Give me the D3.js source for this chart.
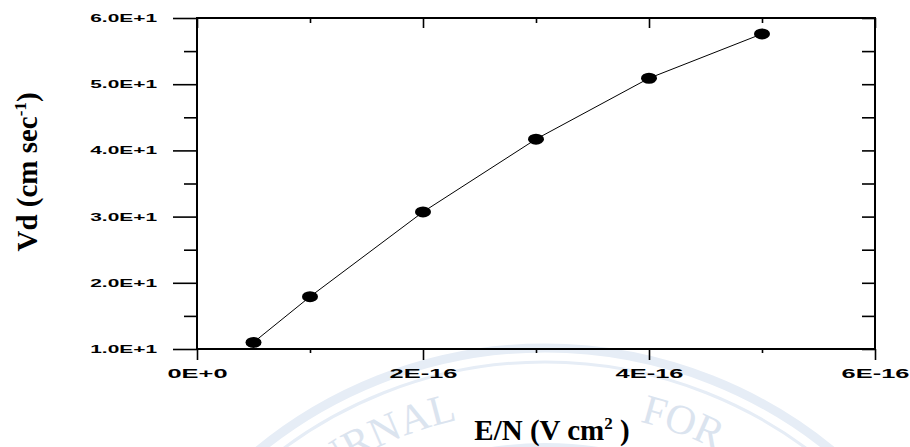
<!DOCTYPE html>
<html>
<head>
<meta charset="utf-8">
<script src="https://cdn.jsdelivr.net/npm/d3@7"></script>
<style>
  html, body { margin: 0; padding: 0; background: #fff; }
  svg { display: block; }
</style>
</head>
<body>
<div id="chart"></div>
<script>
// E/N values (V cm^2) and drift velocity Vd (cm/sec)
const enValues = [0.5e-16, 1e-16, 2e-16, 3e-16, 4e-16, 5e-16];
const vdValues = [11.0, 17.9, 30.7, 41.7, 50.9, 57.6];

const xMajorTicks = [0, 2e-16, 4e-16, 6e-16];
const xMinorTicks = [1e-16, 3e-16, 5e-16];
const yMajorTicks = [10, 20, 30, 40, 50, 60];
const yMinorTicks = [15, 25, 35, 45, 55];

const xTitle = 'E/N (V cm';
const yTitle = 'Vd (cm sec';

const width = 910, height = 447;
const plotLeft = 197, plotRight = 875, plotTop = 18, plotBottom = 349;

const svg = d3.select('#chart').append('svg')
    .attr('width', width)
    .attr('height', height);

// faint journal watermark behind the chart
const wm = svg.append('g').attr('fill', 'none');
const cx = 545, cy = 800;
[[452, 9], [438, 3], [355, 4]].forEach(([r, w]) => {
  wm.append('circle')
      .attr('cx', cx).attr('cy', cy).attr('r', r)
      .attr('stroke', '#e6edf6')
      .attr('stroke-width', w);
});
const tr = 390;
wm.append('path')
    .attr('id', 'wmArc')
    .attr('d', `M${cx - tr},${cy} A${tr},${tr} 0 0 1 ${cx + tr},${cy}`);
const arcLen = Math.PI * tr;
wm.append('text')
    .attr('fill', '#dbe4ef')
    .style('font', '42px "Liberation Serif", "Times New Roman", serif')
    .attr('text-anchor', 'end')
    .append('textPath')
    .attr('href', '#wmArc')
    .attr('startOffset', arcLen * (77 / 180))
    .text('JOURNAL');
wm.append('text')
    .attr('fill', '#dbe4ef')
    .style('font', '42px "Liberation Serif", "Times New Roman", serif')
    .attr('text-anchor', 'start')
    .append('textPath')
    .attr('href', '#wmArc')
    .attr('startOffset', arcLen * (104 / 180))
    .text('FOR');

const x = d3.scaleLinear().domain([0, 6e-16]).range([plotLeft, plotRight]);
const y = d3.scaleLinear().domain([10, 60]).range([plotBottom, plotTop]);

const fmtX = v => v === 0 ? '0E+0' : `${Math.round(v / 1e-16)}E-16`;
const fmtY = v => `${(v / 10).toFixed(1)}E+1`;

function styleAxis(g) {
  g.select('.domain').remove();
  g.selectAll('line').attr('stroke', '#000').attr('stroke-width', 1.6);
}

// bottom axis
svg.append('g')
    .attr('transform', `translate(0,${plotBottom})`)
    .call(d3.axisBottom(x).tickValues(xMinorTicks).tickSize(4).tickFormat(''))
    .call(styleAxis);
const xAxis = svg.append('g')
    .attr('transform', `translate(0,${plotBottom})`)
    .call(d3.axisBottom(x).tickValues(xMajorTicks).tickSize(11).tickPadding(9).tickFormat(fmtX))
    .call(styleAxis);
// labels in the original are stretched sideways
xAxis.selectAll('text')
    .attr('fill', '#000')
    .style('font', 'bold 12px "Liberation Sans", Arial, sans-serif')
    .attr('transform', 'scale(2.12,1)');

// top axis, ticks pointing in
svg.append('g')
    .attr('transform', `translate(0,${plotTop})`)
    .call(d3.axisBottom(x).tickValues(xMajorTicks).tickSize(10).tickFormat(''))
    .call(styleAxis);
svg.append('g')
    .attr('transform', `translate(0,${plotTop})`)
    .call(d3.axisBottom(x).tickValues(xMinorTicks).tickSize(5).tickFormat(''))
    .call(styleAxis);

// left axis
svg.append('g')
    .attr('transform', `translate(${plotLeft},0)`)
    .call(d3.axisLeft(y).tickValues(yMinorTicks).tickSize(13).tickFormat(''))
    .call(styleAxis);
const yAxis = svg.append('g')
    .attr('transform', `translate(${plotLeft},0)`)
    .call(d3.axisLeft(y).tickValues(yMajorTicks).tickSize(24).tickPadding(16).tickFormat(fmtY))
    .call(styleAxis);
yAxis.selectAll('text')
    .attr('fill', '#000')
    .style('font', 'bold 11px "Liberation Sans", Arial, sans-serif')
    .attr('x', 0)
    .attr('transform', 'translate(-40,0) scale(1.9,1)');

// right axis, ticks pointing in
svg.append('g')
    .attr('transform', `translate(${plotRight},0)`)
    .call(d3.axisLeft(y).tickValues(yMajorTicks.concat(yMinorTicks)).tickSize(13).tickFormat(''))
    .call(styleAxis);

// frame
svg.append('rect')
    .attr('x', plotLeft).attr('y', plotTop)
    .attr('width', plotRight - plotLeft).attr('height', plotBottom - plotTop)
    .attr('fill', 'none')
    .attr('stroke', '#000')
    .attr('stroke-width', 2);

// data line and markers
const pts = enValues.map((v, i) => [v, vdValues[i]]);
svg.append('path')
    .datum(pts)
    .attr('fill', 'none')
    .attr('stroke', '#000')
    .attr('stroke-width', 1)
    .attr('d', d3.line().x(d => x(d[0])).y(d => y(d[1])));
svg.selectAll('ellipse.pt')
    .data(pts)
    .enter()
    .append('ellipse')
    .attr('class', 'pt')
    .attr('cx', d => x(d[0]))
    .attr('cy', d => y(d[1]))
    .attr('rx', 8)
    .attr('ry', 5.5)
    .attr('fill', '#000');

// axis titles
const titleFont = 'bold 29px "Liberation Serif", "Times New Roman", serif';
const xt = svg.append('text')
    .attr('x', 552).attr('y', 440)
    .attr('text-anchor', 'middle')
    .style('font', titleFont)
    .text(xTitle);
xt.append('tspan').attr('dy', -11).style('font-size', '17px').text('2');
xt.append('tspan').attr('dy', 11).text(' )');

const yt = svg.append('text')
    .attr('transform', 'translate(37,172) rotate(-90)')
    .attr('text-anchor', 'middle')
    .style('font', titleFont)
    .text(yTitle);
yt.append('tspan').attr('dy', -11).style('font-size', '17px').text('-1');
yt.append('tspan').attr('dy', 11).text(')');
</script>
</body>
</html>
